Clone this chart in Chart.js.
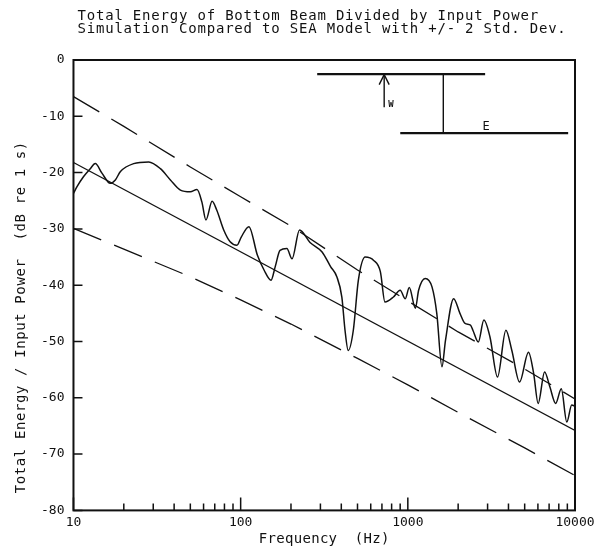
<!DOCTYPE html>
<html>
<head>
<meta charset="utf-8">
<script src="https://cdn.jsdelivr.net/npm/chart.js@4"></script>
<style>
  html, body { margin: 0; padding: 0; background: #fff; }
  canvas { display: block; }
</style>
</head>
<body>
<canvas id="energyChart" width="606" height="548"></canvas>
<script>
// simulated total energy / input power
const simFreq = [10, 10.5, 11.5, 12.6, 13.5, 14.8, 16.6, 17.8, 19.1, 22.9, 28.2, 33.1, 38, 43.6, 50, 54.8, 58.6, 62, 67.5, 72, 79.2, 86.5, 95, 101, 112, 126, 138, 152, 161, 172, 189, 203, 225, 260, 307, 345, 376, 403, 421, 440, 472, 506, 556, 625, 685, 730, 820, 900, 965, 1020, 1110, 1160, 1270, 1395, 1490, 1600, 1680, 1880, 2050, 2200, 2370, 2450, 2640, 2850, 3100, 3440, 3860, 4190, 4660, 5270, 5660, 6020, 6580, 7080, 7660, 8280, 8930, 9560, 10000];
const simDb = [-23.7, -22.5, -20.7, -19.3, -18.4, -20.1, -21.9, -21.3, -19.8, -18.4, -18.1, -19.3, -21.3, -23.1, -23.4, -23.0, -25.2, -28.4, -25.1, -26.7, -30.2, -32.3, -32.9, -31.4, -29.6, -34.7, -37.3, -39.1, -36.7, -33.8, -33.5, -35.3, -30.2, -32.4, -34.1, -36.7, -38.5, -42.1, -48.0, -51.6, -48.0, -39.1, -35.0, -35.6, -37.6, -43.0, -42.1, -40.9, -42.4, -40.4, -44.1, -40.9, -38.8, -40.3, -45.0, -54.5, -49.8, -42.4, -45.0, -46.8, -47.1, -48.0, -50.1, -46.2, -49.2, -56.3, -48.0, -51.6, -57.2, -51.9, -55.7, -61.0, -55.4, -58.1, -61.0, -58.4, -64.3, -61.3, -61.5];

// SEA model
const seaFreq = [10, 10000];
const seaDb = [-18.2, -65.8];

// +/- 2 std. dev. bounds
const boundFreq = [10, 20, 50, 100, 200, 500, 1000, 2000, 5000, 10000];
const upperDb = [-6.5, -11.8, -19.0, -24.3, -29.5, -37.3, -42.8, -48.3, -54.9, -60.2];
const lowerDb = [-29.9, -33.6, -38.5, -42.6, -46.9, -53.0, -57.7, -62.6, -68.9, -73.8];

// axis ticks
const xTickValues = [10, 20, 30, 40, 50, 60, 70, 80, 90, 100, 200, 300, 400, 500, 600, 700, 800, 900, 1000, 2000, 3000, 4000, 5000, 6000, 7000, 8000, 9000, 10000];
const xTickLabels = ["10", "100", "1000", "10000"];
const yTickValues = [0, -10, -20, -30, -40, -50, -60, -70, -80];

// inset sketch of the two beams, in plot units
const beamTopFreq = [287, 2900];
const beamTopDb = [-2.5, -2.5];
const linkFreq = [1630, 1630];
const linkDb = [-2.5, -13];
const beamBottomFreq = [901, 9100];
const beamBottomDb = [-13, -13];
const arrowFreq = [722, 722];
const arrowDb = [-8.4, -2.6];

const pts = (xs, ys) => xs.map((x, i) => ({ x: x, y: ys[i] }));
const INK = "#111";

Chart.defaults.font.family = "'DejaVu Sans Mono', monospace";
Chart.defaults.color = INK;

const decor = {
    id: "decor",
    afterDraw(chart) {
        const ctx = chart.ctx;
        const a = chart.chartArea;
        const xs = chart.scales.x;
        const ys = chart.scales.y;
        ctx.save();
        ctx.strokeStyle = INK;
        ctx.fillStyle = INK;

        // frame
        ctx.lineWidth = 2;
        ctx.strokeRect(a.left, a.top, a.right - a.left, a.bottom - a.top);

        // inward tick marks
        ctx.lineWidth = 1.5;
        ctx.beginPath();
        xTickValues.forEach(v => {
            const px = xs.getPixelForValue(v);
            const len = xTickLabels.includes(String(v)) ? 13 : 7;
            ctx.moveTo(px, a.bottom);
            ctx.lineTo(px, a.bottom - len);
        });
        yTickValues.forEach(v => {
            const py = ys.getPixelForValue(v);
            ctx.moveTo(a.left, py);
            ctx.lineTo(a.left + 9, py);
        });
        ctx.stroke();

        // arrow head on the input arrow
        const ax = xs.getPixelForValue(arrowFreq[1]);
        const ay = ys.getPixelForValue(arrowDb[1]);
        ctx.lineWidth = 1.4;
        ctx.beginPath();
        ctx.moveTo(ax - 5, ay + 10);
        ctx.lineTo(ax, ay);
        ctx.lineTo(ax + 5, ay + 10);
        ctx.stroke();

        // inset labels
        ctx.font = "bold 9px 'DejaVu Sans Mono'";
        ctx.textAlign = "left";
        ctx.textBaseline = "alphabetic";
        ctx.fillText("W", ax + 4, ys.getPixelForValue(-8.4));
        ctx.font = "12px 'DejaVu Sans Mono'";
        ctx.fillText("E", xs.getPixelForValue(2800), ys.getPixelForValue(-12.5));

        // titles
        ctx.font = "14px 'DejaVu Sans Mono'";
        if ("letterSpacing" in ctx) ctx.letterSpacing = "0.8px";
        ctx.fillText("Total Energy of Bottom Beam Divided by Input Power", a.left + 4, 20);
        ctx.fillText("Simulation Compared to SEA Model with +/- 2 Std. Dev.", a.left + 4, 33);

        if ("letterSpacing" in ctx) ctx.letterSpacing = "0.3px";
        ctx.textAlign = "center";
        ctx.fillText("Frequency  (Hz)", (a.left + a.right) / 2, 543);

        if ("letterSpacing" in ctx) ctx.letterSpacing = "0.6px";
        ctx.translate(21, (a.top + a.bottom) / 2 + 32);
        ctx.rotate(-Math.PI / 2);
        ctx.textBaseline = "middle";
        ctx.fillText("Total Energy / Input Power  (dB re 1 s)", 0, 0);
        ctx.restore();
    }
};

const lineStyle = (width, dash) => ({
    borderColor: INK,
    borderWidth: width,
    borderDash: dash || [],
    pointRadius: 0,
    fill: false
});

new Chart(document.getElementById("energyChart"), {
    type: "line",
    data: {
        datasets: [
            Object.assign({ label: "Simulation", data: pts(simFreq, simDb), cubicInterpolationMode: "monotone" }, lineStyle(1.5)),
            Object.assign({ label: "SEA Model", data: pts(seaFreq, seaDb) }, lineStyle(1.3)),
            Object.assign({ label: "+2 Std. Dev.", data: pts(boundFreq, upperDb) }, lineStyle(1.3, [30, 14])),
            Object.assign({ label: "-2 Std. Dev.", data: pts(boundFreq, lowerDb) }, lineStyle(1.3, [30, 14])),
            Object.assign({ label: "beam 1", data: pts(beamTopFreq, beamTopDb) }, lineStyle(2.2)),
            Object.assign({ label: "link", data: pts(linkFreq, linkDb) }, lineStyle(1.4)),
            Object.assign({ label: "beam 2", data: pts(beamBottomFreq, beamBottomDb) }, lineStyle(2.2)),
            Object.assign({ label: "input", data: pts(arrowFreq, arrowDb) }, lineStyle(1.4))
        ]
    },
    options: {
        responsive: false,
        animation: false,
        layout: { padding: { left: 32, right: 31, top: 60, bottom: 14 } },
        plugins: {
            legend: { display: false },
            tooltip: { enabled: false }
        },
        scales: {
            x: {
                type: "logarithmic",
                min: 10,
                max: 10000,
                afterBuildTicks: scale => {
                    scale.ticks = xTickValues.map(v => ({ value: v }));
                },
                ticks: {
                    autoSkip: false,
                    maxRotation: 0,
                    padding: 4,
                    font: { size: 13 },
                    callback: v => xTickLabels.includes(String(v)) ? String(v) : ""
                },
                grid: { display: false, drawTicks: false },
                border: { display: false }
            },
            y: {
                type: "linear",
                min: -80,
                max: 0,
                ticks: { stepSize: 10, padding: 9, font: { size: 13 } },
                grid: { display: false, drawTicks: false },
                border: { display: false }
            }
        }
    },
    plugins: [decor]
});
</script>
</body>
</html>
